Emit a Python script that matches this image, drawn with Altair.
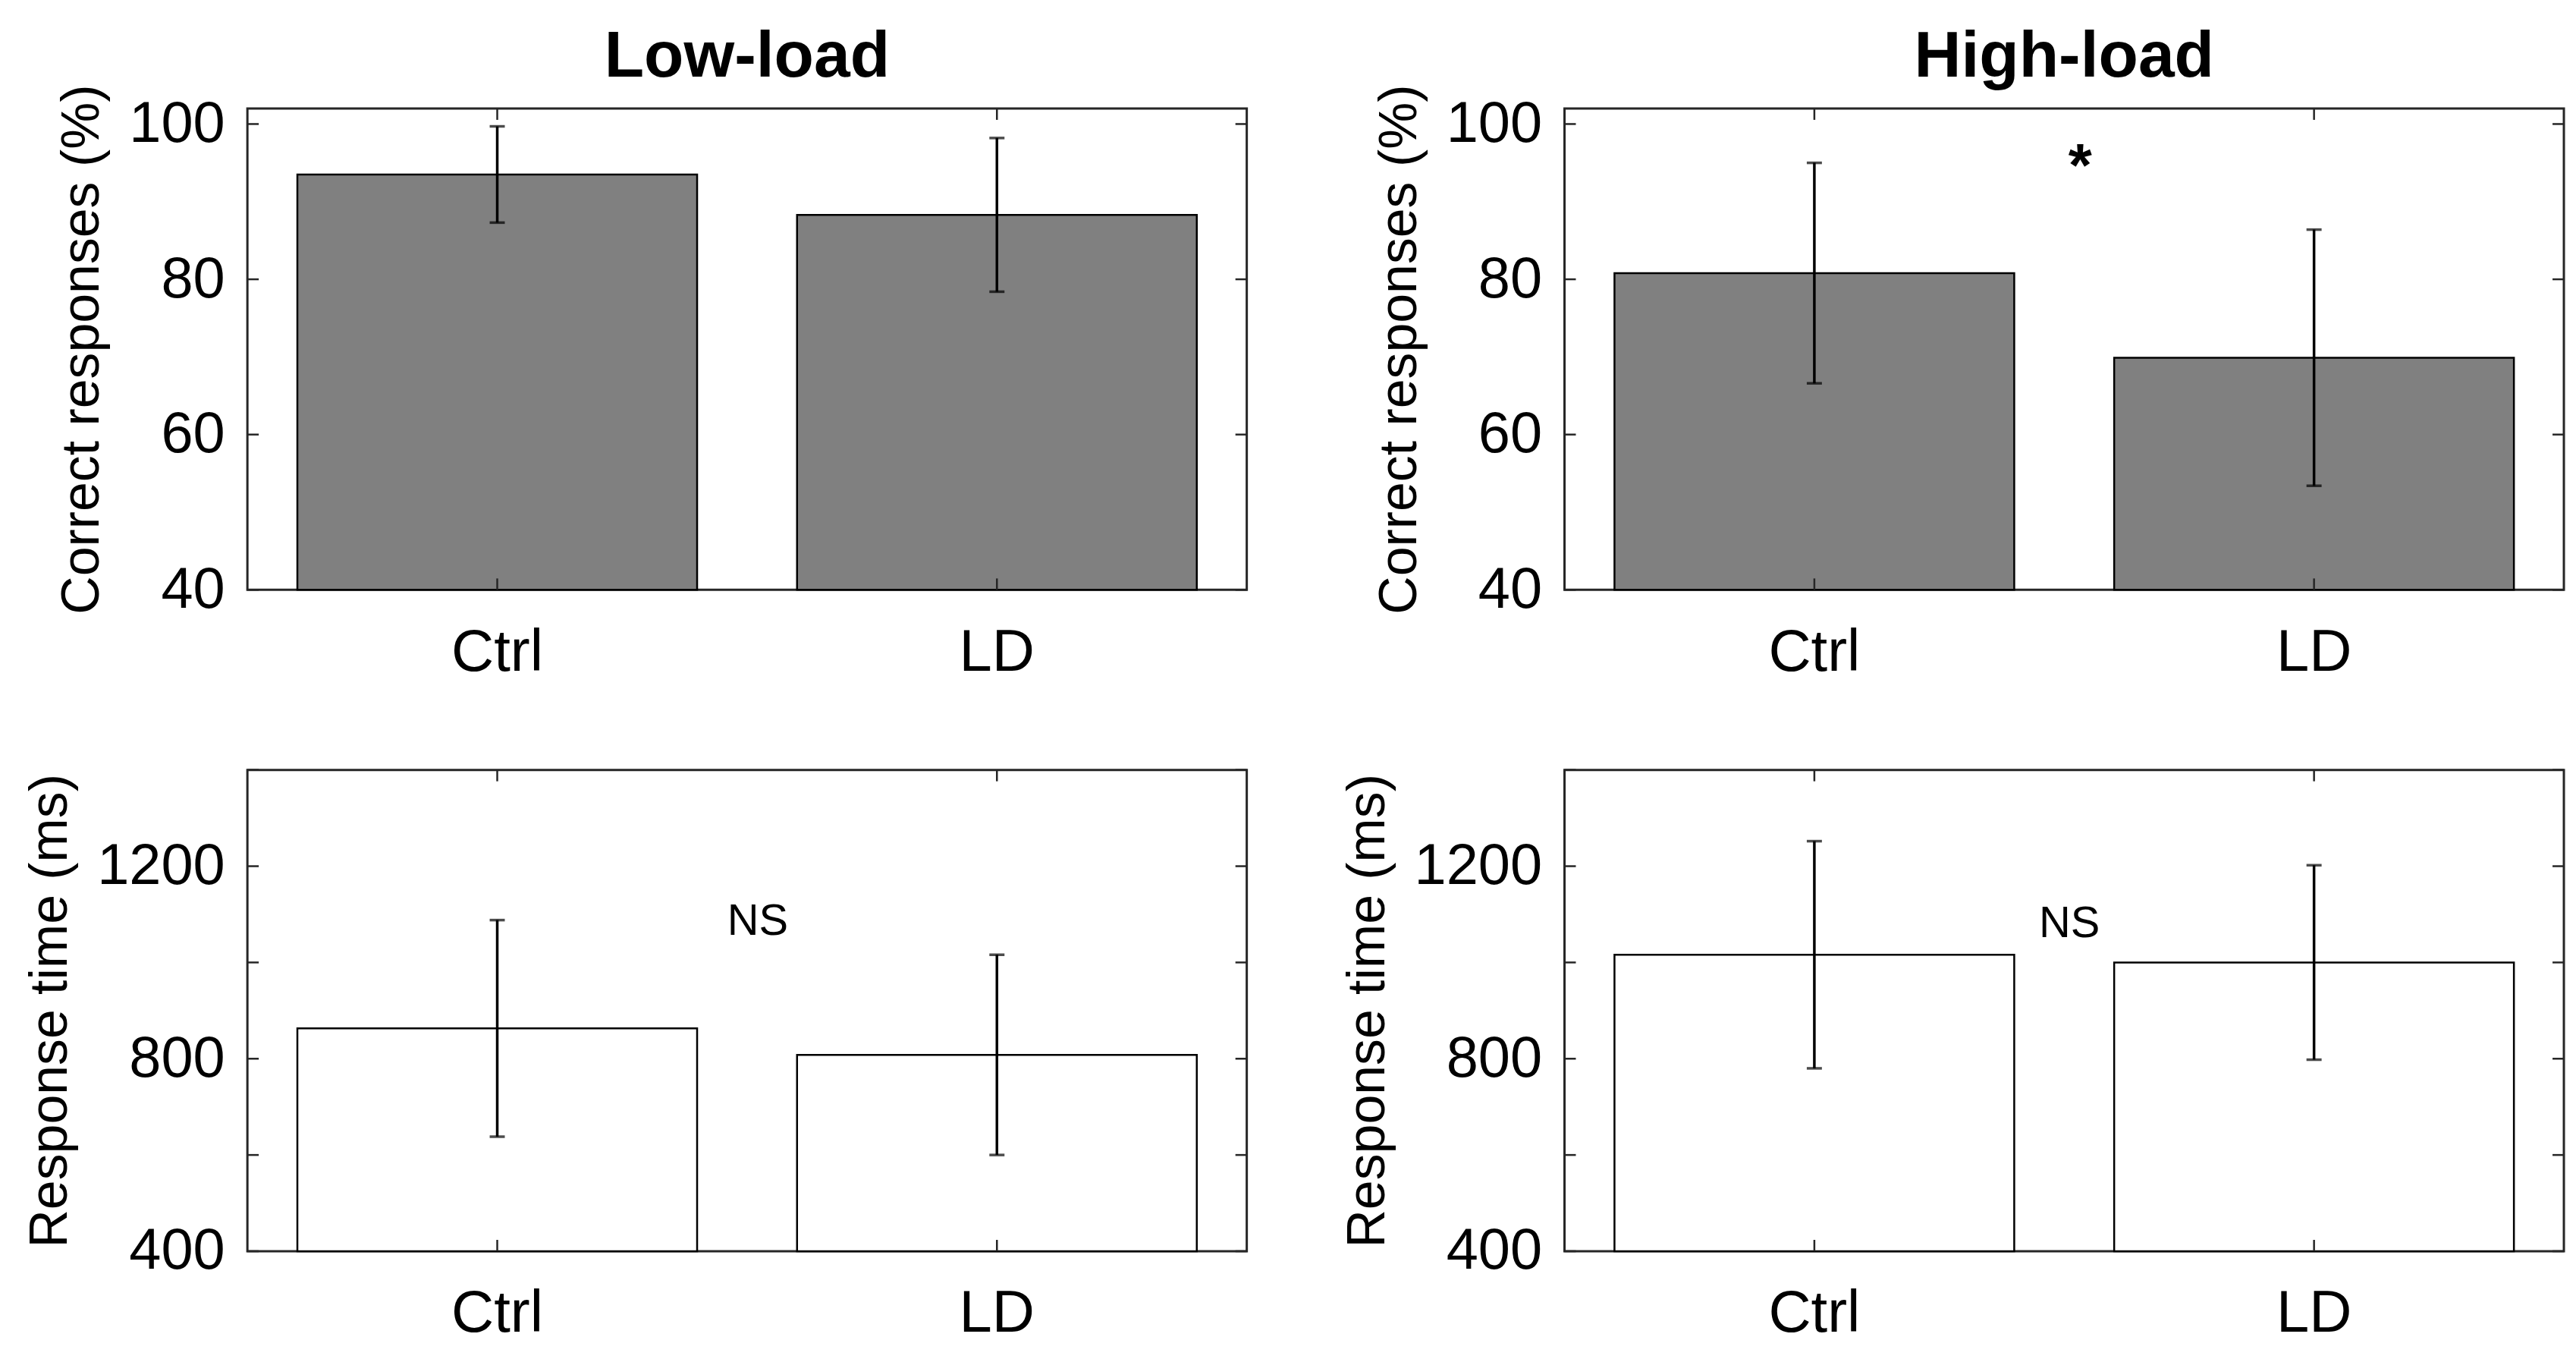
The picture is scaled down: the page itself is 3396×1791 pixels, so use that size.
import altair as alt
import pandas as pd

groups = ["Ctrl", "LD"]

low_cr = [93.5, 88.3]
low_cr_err = [6.2, 9.9]
high_cr = [80.8, 69.9]
high_cr_err = [14.2, 16.5]

low_rt = [863, 808]
low_rt_err = [225, 208]
high_rt = [1016, 1000]
high_rt_err = [236, 202]

cr_domain = [40, 102]
cr_ticks = [40, 60, 80, 100]
cr_labels = [40, 60, 80, 100]
rt_domain = [400, 1400]
rt_ticks = [400, 600, 800, 1000, 1200, 1400]
rt_labels = [400, 800, 1200]

titles = ["Low-load", "High-load"]
cr_title = "Correct responses (%)"
rt_title = "Response time (ms)"

FONT = "Liberation Sans"
INK = "#262626"
W, H = 1321, 636


def panel(vals, errs, domain, tick_vals, label_vals, fill, ytitle,
          title=None, annot=None, annot_y=None, annot_dx=70, annot_dy=0,
          annot_bold=False, annot_size=58):
    df = pd.DataFrame({
        "group": groups,
        "value": vals,
        "lo": [v - e for v, e in zip(vals, errs)],
        "hi": [v + e for v, e in zip(vals, errs)],
        "base": [domain[0]] * len(vals),
    })
    xscale = alt.Scale(domain=groups, paddingInner=0.2, paddingOuter=0.1)
    xaxis = alt.Axis(title=None, ticks=False, domain=False, labelAngle=0,
                     labelPadding=44, labelFontSize=78, grid=False)
    yscale = alt.Scale(domain=domain, nice=False, zero=False)
    yaxis = alt.Axis(values=label_vals, format="d", ticks=False, domain=False,
                     grid=False, labelFontSize=76, labelPadding=30,
                     labelLimit=500, titleFontSize=70, titlePadding=25,
                     labelBaseline="middle")

    def xe(field="group:N", **kw):
        return alt.X(field, scale=xscale, axis=xaxis, title=None, **kw)

    def ye(field):
        return alt.Y(field, scale=yscale, axis=yaxis, title=ytitle)

    base = alt.Chart(df)
    bars = base.mark_bar(fill=fill, stroke="black", strokeWidth=2.5).encode(
        x=xe(), y=ye("value:Q"), y2="base:Q")
    err = base.mark_rule(color="black", strokeWidth=3.5).encode(
        x=xe(), y=ye("lo:Q"), y2="hi:Q")
    cap_lo = base.mark_tick(color="black", size=20, thickness=3.5).encode(
        x=xe(), y=ye("lo:Q"))
    cap_hi = base.mark_tick(color="black", size=20, thickness=3.5).encode(
        x=xe(), y=ye("hi:Q"))

    tdf = pd.DataFrame({"t": tick_vals})
    tl = alt.Chart(tdf).mark_rule(color=INK, strokeWidth=2.5).encode(
        y=ye("t:Q"), x=alt.value(0), x2=alt.value(15))
    tr = alt.Chart(tdf).mark_rule(color=INK, strokeWidth=2.5).encode(
        y=ye("t:Q"), x=alt.value(W - 15), x2=alt.value(W))
    xt_top = base.mark_rule(color=INK, strokeWidth=2.5).encode(
        x=xe(), y=alt.value(0), y2=alt.value(15))
    xt_bot = base.mark_rule(color=INK, strokeWidth=2.5).encode(
        x=xe(), y=alt.value(H - 15), y2=alt.value(H))

    layers = [bars, err, cap_lo, cap_hi, tl, tr, xt_top, xt_bot]
    if annot is not None:
        adf = pd.DataFrame({"group": [groups[0]], "y": [annot_y], "label": [annot]})
        txt = alt.Chart(adf).mark_text(
            font=FONT, fontSize=annot_size, color="black", dx=annot_dx,
            dy=annot_dy, baseline="middle", align="center",
            fontWeight="bold" if annot_bold else "normal").encode(
            x=xe(bandPosition=1), y=ye("y:Q"), text="label:N")
        layers.append(txt)

    props = dict(width=W, height=H)
    if title is not None:
        props["title"] = alt.TitleParams(title, fontSize=86, fontWeight="bold",
                                         font=FONT, color="black", offset=-8,
                                         anchor="middle")
    return alt.layer(*layers).properties(**props)


p1 = panel(low_cr, low_cr_err, cr_domain, cr_ticks, cr_labels, "#808080",
           cr_title, title=titles[0])
p2 = panel(high_cr, high_cr_err, cr_domain, cr_ticks, cr_labels, "#808080",
           cr_title, title=titles[1], annot="*", annot_y=95.5, annot_dx=87,
           annot_dy=12, annot_bold=True, annot_size=80)
p3 = panel(low_rt, low_rt_err, rt_domain, rt_ticks, rt_labels, "white",
           rt_title, annot="NS", annot_y=1090, annot_dx=80, annot_dy=4)
p4 = panel(high_rt, high_rt_err, rt_domain, rt_ticks, rt_labels, "white",
           rt_title, annot="NS", annot_y=1086, annot_dx=73, annot_dy=4)

chart = alt.concat(p1, p2, p3, p4, columns=2,
                   spacing={"row": 111, "column": 120}).properties(
    padding={"left": 22, "top": 20, "right": 5, "bottom": 2},
    background="white",
).configure_view(
    stroke=INK, strokeWidth=3
).configure_axis(
    labelFont=FONT, titleFont=FONT, labelColor="black", titleColor="black",
    titleFontWeight="normal"
).configure_title(font=FONT)

chart.save("out.html", embed_options={"renderer": "svg", "actions": False})
